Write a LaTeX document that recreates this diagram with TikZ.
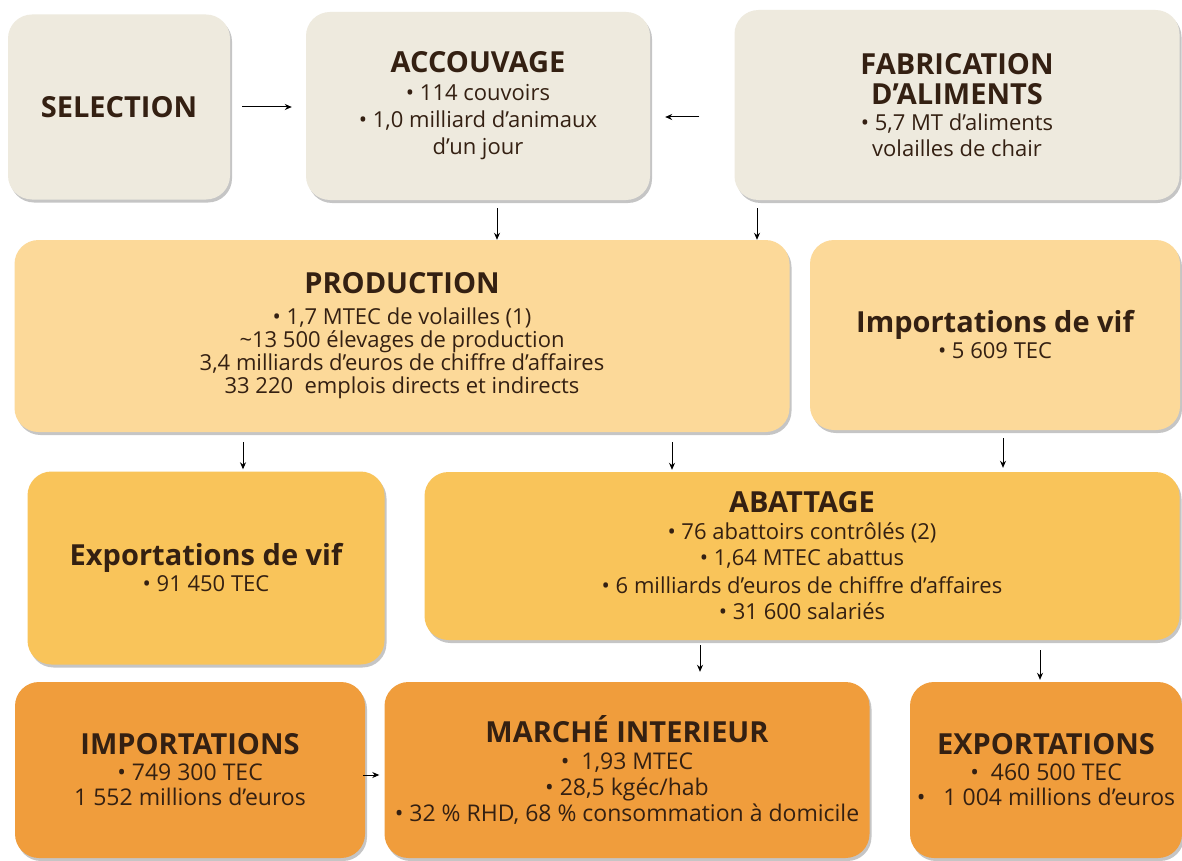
\documentclass[tikz,border=0pt]{standalone}
\usepackage{fontspec}
\setmainfont{Open Sans}
\usetikzlibrary{arrows.meta,shadows}
\definecolor{beige}{RGB}{238,234,222}
\definecolor{paleorange}{RGB}{252,217,153}
\definecolor{midorange}{RGB}{249,196,90}
\definecolor{deeporange}{RGB}{240,157,60}
\definecolor{ink}{RGB}{52,32,18}
\newcommand{\ttl}[1]{{\fontsize{29}{33}\selectfont\bfseries #1}}
\newcommand{\bul}{\textbullet\ }

\begin{document}
\begin{tikzpicture}[x=1pt,y=-1pt,
	box/.style={rounded corners=24pt,align=center,text=ink,inner sep=0pt,
		font=\fontsize{22}{26}\selectfont,
		drop shadow={shadow xshift=2pt,shadow yshift=-3pt,opacity=0.45}},
	arr/.style={-{Stealth[length=7pt,width=6pt]},line width=1pt}]

	\useasboundingbox[fill=white] (0,0) rectangle (1182,861);

	\node[box,fill=beige,minimum width=222pt,minimum height=185pt] (sel) at (119,107) {\ttl{SELECTION}};
	\node[box,fill=beige,minimum width=344pt,minimum height=188pt,font=\fontsize{22}{27}\selectfont] (acc) at (478,106)
		{\ttl{ACCOUVAGE}\\[1pt] \bul 114 couvoirs\\ \bul 1,0 milliard d'animaux\\ d'un jour};
	\node[box,fill=beige,minimum width=445pt,minimum height=190pt] (fab) at (957,105)
		{\ttl{FABRICATION}\\[4pt] \ttl{D'ALIMENTS}\\[0pt] \bul 5,7 MT d'aliments\\ volailles de chair};

	\node[box,fill=paleorange,minimum width=775pt,minimum height=192pt,font=\fontsize{22}{23}\selectfont] (prod) at (402,336)
		{\ttl{PRODUCTION}\\[8pt] \bul 1,7 MTEC de volailles (1)\\ \textasciitilde13 500 élevages de production\\
		3,4 milliards d'euros de chiffre d'affaires\\ 33 220 \ emplois directs et indirects};
	\node[box,fill=paleorange,minimum width=370pt,minimum height=190pt] (impvif) at (995,335)
		{\ttl{Importations de vif}\\ \bul 5 609 TEC};

	\node[box,fill=midorange,minimum width=357pt,minimum height=193pt] (expvif) at (206,568)
		{\ttl{Exportations de vif}\\ \bul 91 450 TEC};
	\node[box,fill=midorange,minimum width=755pt,minimum height=168pt] (abat) at (802,556)
		{\ttl{ABATTAGE}\\[1pt] \bul 76 abattoirs contrôlés (2)\\ \bul 1,64 MTEC abattus\\[2pt]
		\bul 6 milliards d'euros de chiffre d'affaires\\ \bul 31 600 salariés};

	\node[box,fill=deeporange,minimum width=350pt,minimum height=176pt,font=\fontsize{23}{25}\selectfont] (imp) at (190,770)
		{\ttl{IMPORTATIONS}\\[1pt] \bul 749 300 TEC\\ 1 552 millions d'euros};
	\node[box,fill=deeporange,minimum width=485pt,minimum height=176pt,font=\fontsize{23}{26}\selectfont] (marche) at (627,770)
		{\ttl{MARCHÉ INTERIEUR}\\[1pt] \bul\ 1,93 MTEC\\ \bul 28,5 kgéc/hab\\
		\bul 32 \% RHD, 68 \% consommation à domicile};
	\node[box,fill=deeporange,minimum width=272pt,minimum height=176pt,font=\fontsize{23}{25}\selectfont] (exp) at (1046,770)
		{\ttl{EXPORTATIONS}\\[1pt] \bul\ 460 500 TEC\\ \bul\ \ 1 004 millions d'euros};

	\draw[arr,shorten <=12pt,shorten >=14pt] (sel.east) -- (sel.east -| acc.west);
	\draw[arr,shorten <=35pt,shorten >=15pt] ([yshift=-12pt]fab.west) -- ([yshift=-12pt]fab.west -| acc.east);
	\draw[arr,shorten <=8pt] ([xshift=19pt]acc.south) -- ([xshift=19pt]acc.south |- prod.north);
	\draw[arr,shorten <=8pt] ([xshift=-200pt]fab.south) -- ([xshift=-200pt]fab.south |- prod.north);
	\draw[arr,shorten <=10pt,shorten >=2pt] ([xshift=37pt]expvif.north |- prod.south) -- ([xshift=37pt]expvif.north);
	\draw[arr,shorten <=10pt,shorten >=2pt] ([xshift=270pt]prod.south) -- ([xshift=270pt]prod.south |- abat.north);
	\draw[arr,shorten <=8pt,shorten >=4pt] ([xshift=8pt]impvif.south) -- ([xshift=8pt]impvif.south |- abat.north);
	\draw[arr,shorten <=5pt,shorten >=10pt] ([xshift=-102pt]abat.south) -- ([xshift=-102pt]abat.south |- marche.north);
	\draw[arr,shorten <=10pt,shorten >=2pt] ([xshift=238pt]abat.south) -- ([xshift=238pt]abat.south |- exp.north);
	\draw[arr,shorten <=-2pt,shorten >=5pt] ([yshift=-5pt]imp.east) -- ([yshift=-5pt]imp.east -| marche.west);
\end{tikzpicture}
\end{document}
